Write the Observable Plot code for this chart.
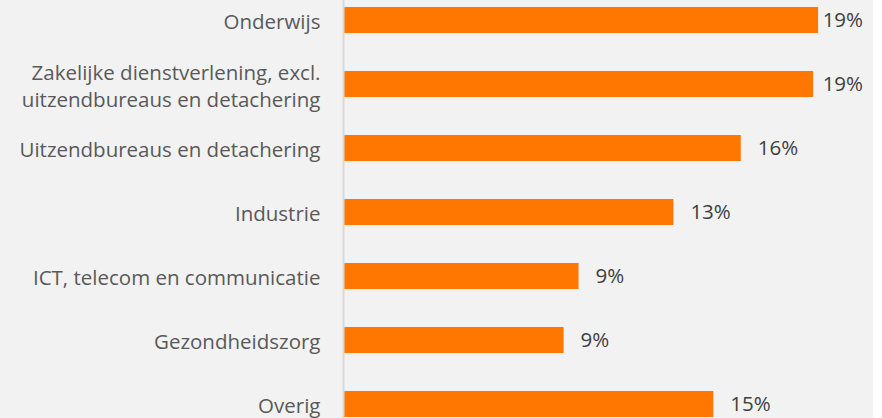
<!DOCTYPE html>
<html>
<head>
<meta charset="utf-8">
<script src="https://cdn.jsdelivr.net/npm/d3@7"></script>
<script src="https://cdn.jsdelivr.net/npm/@observablehq/plot@0.6"></script>
<style>
  html, body { margin: 0; padding: 0; background: #ffffff; }
  #chart svg { display: block; background: #f2f2f2; }
</style>
</head>
<body>
<div id="chart"></div>
<script>
const categories = [
  "Onderwijs",
  "Zakelijke dienstverlening, excl.\nuitzendbureaus en detachering",
  "Uitzendbureaus en detachering",
  "Industrie",
  "ICT, telecom en communicatie",
  "Gezondheidszorg",
  "Overig"
];
const values = [19.0, 18.8, 15.9, 13.2, 9.4, 8.8, 14.8];
const valueLabels = ["19%", "19%", "16%", "13%", "9%", "9%", "15%"];

const xMax = 21.2;
const data = categories.map((c, i) => ({category: c, value: values[i], label: valueLabels[i]}));

const chart = Plot.plot({
  width: 873,
  height: 418,
  marginLeft: 344,
  marginRight: 0,
  marginTop: 6,
  marginBottom: 0.5,
  style: {fontFamily: "'Open Sans', sans-serif", fontSize: "20.5px", color: "#595959", background: "#f2f2f2"},
  x: {domain: [0, xMax], axis: null},
  y: {domain: categories, paddingInner: 0.595, paddingOuter: 0, axis: null},
  marks: [
    Plot.axisY({tickSize: 0, tickPadding: 24, fontSize: 20.5, lineHeight: 1.33, fill: "#595959", textOverflow: null, label: null}),
    Plot.barX(data, {x: "value", y: "category", fill: "#ff7700"}),
    Plot.ruleX([0], {stroke: "#d9d9d9", strokeWidth: 2, dx: -1, insetTop: -6, insetBottom: -1}),
    Plot.text(data, {
      x: d => Math.min(d.value, xMax - 2.7),
      y: "category",
      text: "label",
      textAnchor: "start",
      dx: 16.5,
      fill: "#404040",
      fontSize: 20.5
    })
  ]
});
document.getElementById("chart").appendChild(chart);
</script>
</body>
</html>
